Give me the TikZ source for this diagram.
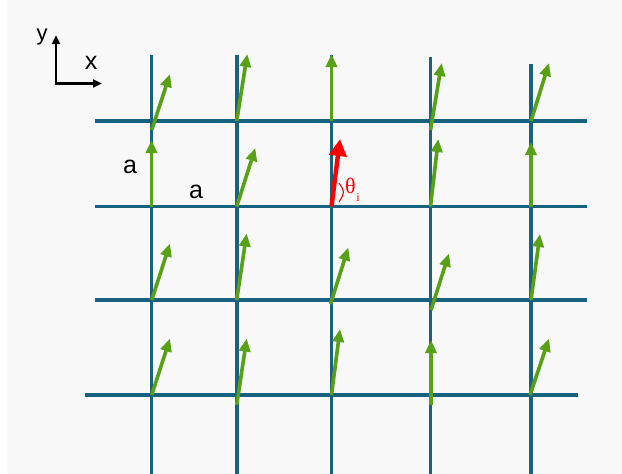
\documentclass[tikz,border=0pt]{standalone}
\usepackage{fontspec}
\setmainfont{Liberation Sans}
\newfontfamily\serifgr{Liberation Serif}
\usetikzlibrary{arrows.meta}
\definecolor{gridblue}{RGB}{22,98,128}
\definecolor{spingreen}{RGB}{88,160,22}
\definecolor{bggray}{RGB}{248,248,248}
\tikzset{
  gridline/.style={draw=gridblue, line width=3.6pt},
  spin/.style={draw=spingreen, line width=3.6pt, -{Triangle[length=13pt,width=11pt]}},
  redspin/.style={draw=red, line width=4.4pt, -{Triangle[length=17pt,width=17pt]}},
  axis/.style={draw=black, line width=2.6pt, -{Triangle[length=9pt,width=8pt]}},
  lbl/.style={inner sep=0pt, font=\fontsize{25}{27}\selectfont}
}
\begin{document}
\begin{tikzpicture}[x=1pt,y=-1pt]
\useasboundingbox (0,0) rectangle (622,474);
\fill[white] (0,0) rectangle (622,474);
\fill[bggray] (7,0) rectangle (622,474);
% grid
\draw[gridline] (151.5,55) -- (151.5,474);
\draw[gridline] (236.7,55) -- (236.7,474);
\draw[gridline] (331.5,55) -- (331.5,474);
\draw[gridline] (430.5,57) -- (430.5,474);
\draw[gridline] (531,64) -- (531,474);
\draw[gridline] (95,121) -- (587,121);
\draw[gridline] (95,206.5) -- (587,206.5);
\draw[gridline] (95,300) -- (587,300);
\draw[gridline] (85,395) -- (578,395);
% row 1
\coordinate (s11) at (151.7,130); \coordinate (t11) at (170,74);
\coordinate (s12) at (236.7,121); \coordinate (t12) at (247.3,54);
\coordinate (s13) at (331.5,121); \coordinate (t13) at (331.5,54);
\coordinate (s14) at (430.5,130); \coordinate (t14) at (441.7,63);
\coordinate (s15) at (531,121); \coordinate (t15) at (549,63);
% row 2
\coordinate (s21) at (151.5,206.5); \coordinate (t21) at (151.5,140);
\coordinate (s22) at (236.7,206.5); \coordinate (t22) at (255.3,148);
\coordinate (s23) at (331.5,206.5); \coordinate (t23) at (340,139);
\coordinate (s24) at (430.5,206.5); \coordinate (t24) at (438.3,139);
\coordinate (s25) at (531,206.5); \coordinate (t25) at (531,142);
% row 3
\coordinate (s31) at (151.7,300); \coordinate (t31) at (170,243.5);
\coordinate (s32) at (236.7,300); \coordinate (t32) at (246.7,233.5);
\coordinate (s33) at (330.5,304); \coordinate (t33) at (348.3,247.5);
\coordinate (s34) at (431,310); \coordinate (t34) at (449,253.5);
\coordinate (s35) at (531,300); \coordinate (t35) at (540,234);
% row 4
\coordinate (s41) at (151.7,395); \coordinate (t41) at (170,338.5);
\coordinate (s42) at (236.7,405); \coordinate (t42) at (246.7,338.5);
\coordinate (s43) at (331.5,395); \coordinate (t43) at (340,329);
\coordinate (s44) at (431,405); \coordinate (t44) at (431,340);
\coordinate (s45) at (530,395); \coordinate (t45) at (549,338.5);
\foreach \r in {1,2,3,4}{
  \foreach \c in {1,2,3,4,5}{
    \ifnum\r\c=23\relax\else
      \draw[spin] (s\r\c) -- (t\r\c);
    \fi
  }
}
% red spin
\draw[redspin] (s23) -- (t23);
\draw[red, line width=1.1pt] (339,183) .. controls (345,192) .. (339,202);
\node[inner sep=0pt, text=red, font=\serifgr\fontsize{22}{23}\selectfont] (theta) at (350.5,186) {θ};
\node[inner sep=0pt, text=red, font=\serifgr\fontsize{12}{13}\selectfont] (isub) at (358,198) {i};
% lattice constant labels
\node[lbl] (a1) at (130,167) {a};
\node[lbl] (a2) at (196,192) {a};
% axes
\coordinate (o) at (56,83.5);
\coordinate (ytip) at (56,35);
\coordinate (xtip) at (102,83.5);
\draw[axis, line cap=rect] (o) -- (ytip);
\draw[axis] (o) -- (xtip);
\node[lbl, font=\fontsize{22}{23}\selectfont] (ylab) at (42,37) {y};
\node[lbl, font=\fontsize{25}{27}\selectfont] (xlab) at (91,63) {x};
\end{tikzpicture}
\end{document}
